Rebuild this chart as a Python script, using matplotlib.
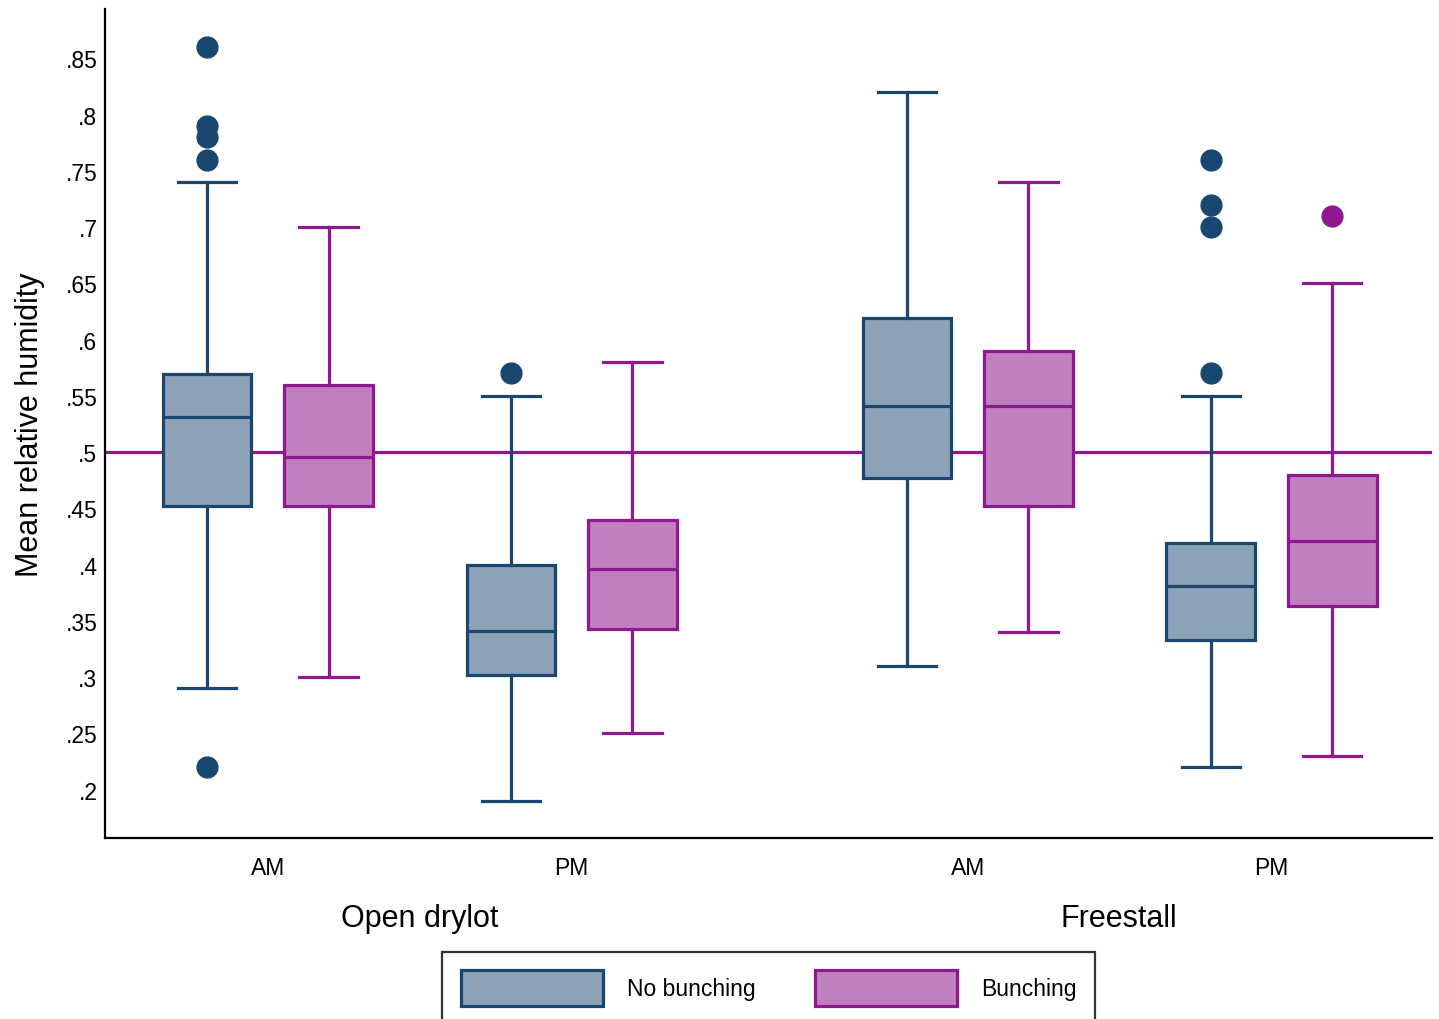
import matplotlib
matplotlib.use('Agg')
import matplotlib.pyplot as plt
from matplotlib.patches import Patch
import matplotlib.transforms as mtransforms

plt.rcParams['font.family'] = ['Liberation Sans', 'DejaVu Sans']

# Box statistics (order: Drylot AM, Drylot PM, Freestall AM, Freestall PM)
groups = ['Open drylot', 'Freestall']
times = ['AM', 'PM', 'AM', 'PM']
series = ['No bunching', 'Bunching']

nb_whislo = [0.29, 0.19, 0.31, 0.22]
nb_q1 = [0.452, 0.302, 0.477, 0.333]
nb_med = [0.531, 0.341, 0.541, 0.381]
nb_q3 = [0.569, 0.40, 0.619, 0.419]
nb_whishi = [0.74, 0.55, 0.82, 0.55]
nb_fliers = [[0.86, 0.79, 0.78, 0.76, 0.22], [0.57], [], [0.76, 0.72, 0.70, 0.57]]

b_whislo = [0.30, 0.25, 0.34, 0.23]
b_q1 = [0.452, 0.343, 0.452, 0.363]
b_med = [0.496, 0.396, 0.541, 0.421]
b_q3 = [0.56, 0.44, 0.59, 0.48]
b_whishi = [0.70, 0.58, 0.74, 0.65]
b_fliers = [[], [], [], [0.71]]

ref_line = 0.5

navy = '#1a476f'
navy_fill = '#8da2b7'
purple = '#90198f'
purple_fill = '#c080bf'

# x positions of the box pairs
time_pos = [0.5, 3.0, 6.26, 8.76]
group_pos = [1.75, 7.5]


def make_stats(whislo, q1, med, q3, whishi, fliers):
    return [dict(whislo=a, q1=b, med=c, q3=d, whishi=e, fliers=f)
            for a, b, c, d, e, f in zip(whislo, q1, med, q3, whishi, fliers)]


fig = plt.figure(figsize=(14.39, 10.2), dpi=100)
ax = fig.add_axes([0.073, 0.1775, 0.922, 0.8125])

ax.axhline(ref_line, color=purple, lw=2.3, zorder=0)

lw = 2.3
for stats, off, edge, fill in [
        (make_stats(nb_whislo, nb_q1, nb_med, nb_q3, nb_whishi, nb_fliers), -0.5, navy, navy_fill),
        (make_stats(b_whislo, b_q1, b_med, b_q3, b_whishi, b_fliers), 0.5, purple, purple_fill)]:
    ax.bxp(stats, positions=[p + off for p in time_pos], widths=0.73,
           patch_artist=True, showfliers=True,
           boxprops=dict(facecolor=fill, edgecolor=edge, linewidth=lw),
           medianprops=dict(color=edge, linewidth=lw),
           whiskerprops=dict(color=edge, linewidth=lw),
           capprops=dict(color=edge, linewidth=lw),
           capwidths=0.48,
           flierprops=dict(marker='o', markerfacecolor=edge, markeredgecolor=edge,
                           markersize=15, linestyle='none'),
           manage_ticks=False)

ax.set_xlim(-0.84, 10.08)
ax.set_ylim(0.157, 0.8936)

ax.set_yticks([0.2, 0.25, 0.3, 0.35, 0.4, 0.45, 0.5, 0.55, 0.6, 0.65, 0.7, 0.75, 0.8, 0.85])
ax.set_yticklabels(['.2', '.25', '.3', '.35', '.4', '.45', '.5', '.55', '.6', '.65',
                    '.7', '.75', '.8', '.85'])
ax.set_xticks(time_pos)
ax.set_xticklabels(times)
ax.tick_params(axis='y', length=0, pad=5.5, labelsize=16.5)
ax.tick_params(axis='x', length=0, pad=13, labelsize=16.5)

for side in ['top', 'right']:
    ax.spines[side].set_visible(False)
for side in ['left', 'bottom']:
    ax.spines[side].set_linewidth(1.6)
    ax.spines[side].set_color('black')

ax.set_ylabel('Mean relative humidity', fontsize=22, labelpad=15)

trans = mtransforms.blended_transform_factory(ax.transData, ax.transAxes)
for g, gx in zip(groups, group_pos):
    ax.text(gx, -0.0965, g, transform=trans, ha='center', va='center', fontsize=22)

handles = [Patch(facecolor=navy_fill, edgecolor=navy, linewidth=lw),
           Patch(facecolor=purple_fill, edgecolor=purple, linewidth=lw)]
leg = fig.legend(handles, series, loc='upper center', ncol=2,
                 bbox_to_anchor=(768.5 / 1439, 1 - 953 / 1020),
                 borderaxespad=0,
                 fontsize=16.5, handlelength=6.2, handleheight=2.0,
                 handletextpad=1.05, columnspacing=2.6, borderpad=0.8,
                 fancybox=False, frameon=True)
leg.get_frame().set_edgecolor('black')
leg.get_frame().set_linewidth(1.6)

fig.savefig('out.png', dpi=100)
